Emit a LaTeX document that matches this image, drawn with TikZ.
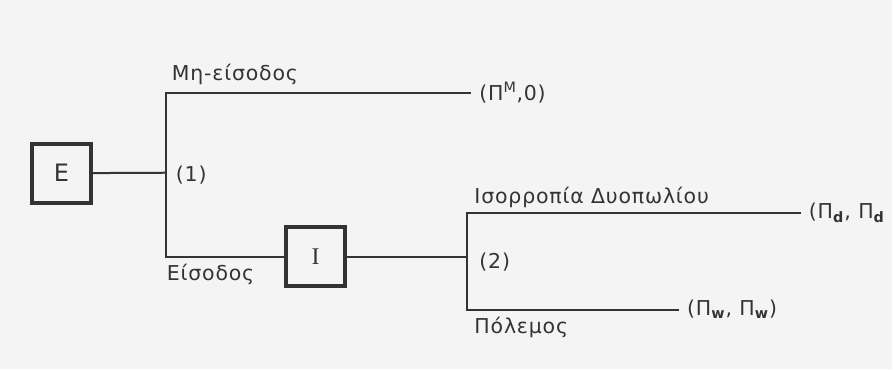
\documentclass[tikz,border=0pt]{standalone}
\usepackage{fontspec}
\setmainfont{DejaVu Sans}[LetterSpace=4]
\newfontfamily\boxserif{Liberation Serif}
\usetikzlibrary{positioning}
\definecolor{ink}{HTML}{333333}
\definecolor{paper}{HTML}{F4F4F4}
\begin{document}
\begin{tikzpicture}[
x=1pt, y=-1pt,
every node/.style={text=ink, font=\fontsize{20.5}{22}\selectfont},
player/.style={draw=ink, line width=4pt, rectangle, minimum width=59pt, minimum height=59pt, inner sep=0pt, font=\fontsize{24}{26}\selectfont},
branch/.style={draw=ink, line width=2pt},
payoff/.style={anchor=west, inner sep=8pt},
lbl/.style={anchor=west, inner sep=0pt}
]
\fill[paper] (0,0) rectangle (893,370);

\node[player] (E) at (61.5,173.5) {E};
\node[player] (I) at (316,257) {\boxserif I};

\coordinate (n1) at (166,173);
\coordinate (n2) at (468,257);

\node[payoff] (pM) at (472,93) {(Π\textsuperscript{M},0)};
\node[payoff] (pd) at (802,213) {(Π\textsubscript{\textbf{d}}, Π\textsubscript{\textbf{d}}};
\node[payoff] (pw) at (680,310) {(Π\textsubscript{\textbf{w}}, Π\textsubscript{\textbf{w}})};

\node[lbl] (stay) at (172,75) {Μη-είσοδος};
\node[lbl] (d1) at (176,175) {(1)};
\node[lbl] (enter) at (167,275) {Είσοδος};
\node[lbl] (peace) at (475,198) {Ισορροπία Δυοπωλίου};
\node[lbl] (d2) at (480,262) {(2)};
\node[lbl] (war) at (475,328) {Πόλεμος};

\draw[branch] (E) -- (n1);
\draw[branch] (n1) |- (pM.west);
\draw[branch] (n1) |- (I.west);
\draw[branch] (I) -- (n2);
\draw[branch] (n2) |- (pd.west);
\draw[branch] (n2) |- (pw.west);

\end{tikzpicture}
\end{document}
